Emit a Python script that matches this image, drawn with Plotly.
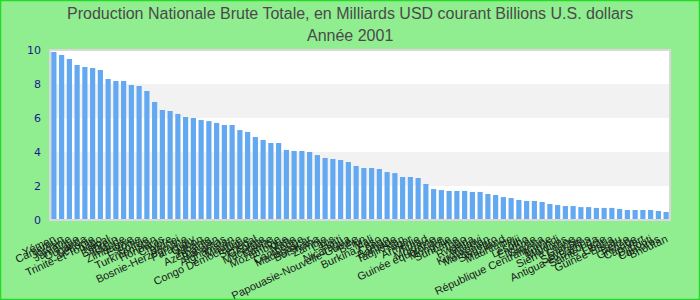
import plotly.graph_objects as go

categories = [
    "Yémen", "Cameroun", "Jordanie", "Jamaïque", "Ouganda", "Lettonie", "Trinité-et-Tobago", "Népal",
    "Bahreïn", "Islande", "Zimbabwe", "Estonie", "Bolivie", "Turkménistan", "Honduras", "Chypre",
    "Brunei", "Bosnie-Herzégovine", "Paraguay", "Gabon", "Albanie", "Azerbaïdjan", "Bahamas", "Afghanistan",
    "Maurice", "Congo Démocratique", "Sénégal", "Géorgie", "Macédoine", "Namibie", "Mozambique", "Malte",
    "Cambodge", "Madagascar", "Botswana", "Zambie", "Laos", "Haïti", "Nicaragua", "Papouasie-Nouvelle-Guinée",
    "Bénin", "Mali", "Burkina Faso", "Congo", "Barbade", "Tadjikistan", "Niger", "Arménie",
    "Tchad", "Moldavie", "Guinée équatoriale", "Mongolie", "Suriname", "Togo", "Rwanda", "Malawi",
    "Kirghizistan", "Monténégro", "Swaziland", "Mauritanie", "Fidji", "Lesotho", "Érythrée", "Guyana",
    "République Centrafricaine", "Burundi", "Maldives", "Sierra Leone", "Gambie", "Seychelles", "Antigua-et-Barbuda", "Sainte-Lucie",
    "Libéria", "Guinée-Bissau", "Belize", "Grenade", "Cap-Vert", "Djibouti", "Comores", "Bhoutan",
]

values = [
    9.88, 9.71, 9.47, 9.12, 9.00, 8.94, 8.82, 8.29,
    8.18, 8.18, 7.94, 7.88, 7.59, 6.94, 6.47, 6.41,
    6.24, 6.06, 6.00, 5.88, 5.82, 5.71, 5.59, 5.59,
    5.29, 5.18, 4.88, 4.71, 4.53, 4.53, 4.12, 4.06,
    4.06, 4.00, 3.82, 3.65, 3.59, 3.53, 3.41, 3.18,
    3.06, 3.06, 3.00, 2.82, 2.76, 2.53, 2.53, 2.47,
    2.12, 1.82, 1.76, 1.71, 1.71, 1.71, 1.65, 1.65,
    1.53, 1.47, 1.35, 1.29, 1.18, 1.12, 1.12, 1.06,
    0.94, 0.88, 0.82, 0.82, 0.76, 0.76, 0.71, 0.71,
    0.71, 0.65, 0.59, 0.59, 0.59, 0.59, 0.53, 0.47,
]

y_ticks = [0, 2, 4, 6, 8, 10]
bands = [(0, 2, "#ffffff"), (2, 4, "#f2f2f2"), (4, 6, "#ffffff"), (6, 8, "#f2f2f2"), (8, 10, "#ffffff")]

title_lines = ["Production Nationale Brute Totale, en Milliards USD courant Billions U.S. dollars", "Année 2001"]

W, H = 700, 300
ML, MR, MT, MB = 50, 30, 50, 80
PW, PH = W - ML - MR, H - MT - MB

def py(pix):
    return (MT + PH - pix) / PH

fig = go.Figure()
fig.add_trace(go.Bar(
    x=categories, y=values,
    marker=dict(color="#63a9f2", line=dict(width=0)),
    hoverinfo="x+y",
))

shapes = []
for y0, y1, c in bands:
    shapes.append(dict(type="rect", xref="paper", yref="y", x0=0, x1=1, y0=y0, y1=y1,
                       fillcolor=c, line=dict(width=0), layer="below"))
shapes.append(dict(type="rect", xref="paper", yref="paper", x0=0, x1=1, y0=0, y1=1,
                   line=dict(color="#d9d9d9", width=2), layer="above"))
shapes.append(dict(type="rect", xref="paper", yref="paper",
                   x0=(0.5 - ML) / PW, x1=(W - 0.5 - ML) / PW,
                   y0=py(H - 0.5), y1=py(0.5),
                   line=dict(color="#22dd22", width=1.5), layer="above"))

title_font = dict(family="Liberation Sans, Arial, sans-serif", size=16, color="#4a4a4a")
annotations = [
    dict(text=title_lines[0], xref="paper", yref="paper", x=(W / 2 - ML) / PW, y=py(13),
         xanchor="center", yanchor="middle", showarrow=False, font=title_font),
    dict(text=title_lines[1], xref="paper", yref="paper", x=(W / 2 - ML) / PW, y=py(35),
         xanchor="center", yanchor="middle", showarrow=False, font=title_font),
]

fig.update_layout(
    width=W, height=H,
    margin=dict(l=ML, r=MR, t=MT, b=MB, autoexpand=False),
    paper_bgcolor="#90ee90",
    plot_bgcolor="#ffffff",
    bargap=0.33,
    showlegend=False,
    shapes=shapes,
    annotations=annotations,
    xaxis=dict(
        type="category", tickmode="linear", dtick=1, tickangle=-25,
        tickfont=dict(family="Liberation Sans, Arial, sans-serif", size=11, color="#1a1a1a"),
        showgrid=False, zeroline=False, showline=False, automargin=False, ticks="",
        ticklabelstandoff=10,
        range=[-0.5, len(categories) - 0.5],
    ),
    yaxis=dict(
        range=[0, 10], tickvals=y_ticks, ticktext=[str(v) for v in y_ticks],
        tickfont=dict(family="DejaVu Sans, Verdana, sans-serif", size=11, color="#1a1a8c"),
        showgrid=False, zeroline=False, showline=False, automargin=False, ticks="",
        ticklabelstandoff=8,
    ),
)

fig.write_html("out.html")
